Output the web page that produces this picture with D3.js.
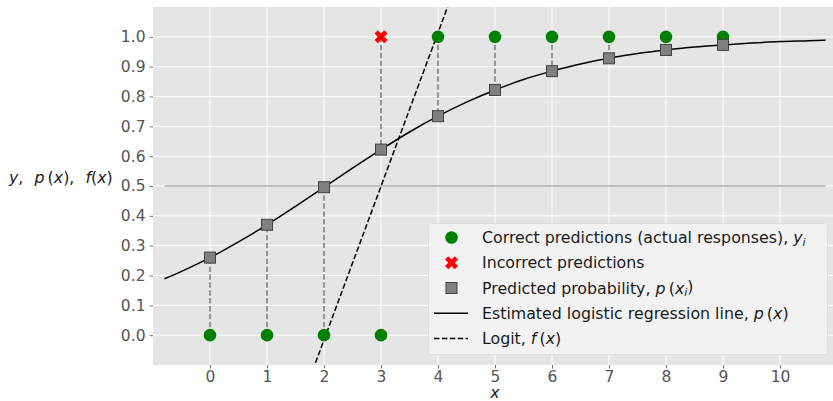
<!DOCTYPE html>
<html>
<head>
<meta charset="utf-8">
<script src="https://cdn.jsdelivr.net/npm/d3@7"></script>
<style>
  body { margin: 0; background: #fff; }
  svg { display: block; font-family: "DejaVu Sans", sans-serif; }
</style>
</head>
<body>
<div id="chart"></div>
<script>
// observations
var xObs = [0, 1, 2, 3, 4, 5, 6, 7, 8, 9];
var yObs = [0, 0, 0, 0, 1, 1, 1, 1, 1, 1];
var yPredClass = [0, 0, 0, 1, 1, 1, 1, 1, 1, 1];
// predicted probabilities p(x_i)
var pObs = [0.260, 0.370, 0.496, 0.622, 0.734, 0.822, 0.885, 0.928, 0.956, 0.973];
// estimated logistic curve
var curveX = [-0.8, -0.5, 0, 0.5, 1, 1.5, 2, 2.5, 3, 3.5, 4, 4.5, 5, 5.5, 6, 6.5, 7, 7.5, 8, 8.5, 9, 9.5, 10, 10.5, 10.8];
var curveY = [0.189, 0.214, 0.260, 0.313, 0.370, 0.432, 0.496, 0.560, 0.622, 0.681, 0.734, 0.781, 0.822, 0.857,
              0.885, 0.909, 0.928, 0.944, 0.956, 0.966, 0.973, 0.979, 0.984, 0.987, 0.989];
// logit line endpoints
var logitX = [-0.8, 10.8];
var logitY = [-1.458, 4.516];
var hlineX = [-0.8, 10.8];
var hlineY = 0.5;
var xTicks = [0, 1, 2, 3, 4, 5, 6, 7, 8, 9, 10];
var yTicks = [0, 0.1, 0.2, 0.3, 0.4, 0.5, 0.6, 0.7, 0.8, 0.9, 1.0];

var width = 833, height = 401;
var plot = { left: 153, right: 837, top: 7, bottom: 365 };

var svg = d3.select("#chart").append("svg")
    .attr("width", width).attr("height", height);

var x = d3.scaleLinear().domain([-1, 11]).range([plot.left, plot.right]);
var y = d3.scaleLinear().domain([-0.1, 1.1]).range([plot.bottom, plot.top]);

svg.append("defs").append("clipPath").attr("id", "clip")
  .append("rect")
    .attr("x", plot.left).attr("y", plot.top)
    .attr("width", plot.right - plot.left).attr("height", plot.bottom - plot.top);

svg.append("rect")
    .attr("x", plot.left).attr("y", plot.top)
    .attr("width", plot.right - plot.left).attr("height", plot.bottom - plot.top)
    .attr("fill", "#e5e5e5");

// grid
var grid = svg.append("g").attr("stroke", "#fff").attr("stroke-width", 1);
grid.selectAll(".gx").data(xTicks).enter().append("line")
    .attr("x1", d => x(d)).attr("x2", d => x(d))
    .attr("y1", plot.top).attr("y2", plot.bottom);
grid.selectAll(".gy").data(yTicks).enter().append("line")
    .attr("x1", plot.left).attr("x2", plot.right)
    .attr("y1", d => y(d)).attr("y2", d => y(d));

// axes
var xAxis = svg.append("g")
    .attr("transform", "translate(0," + plot.bottom + ")")
    .call(d3.axisBottom(x).tickValues(xTicks).tickSize(3.5).tickPadding(2).tickFormat(d3.format("d")));
var yAxis = svg.append("g")
    .attr("transform", "translate(" + plot.left + ",0)")
    .call(d3.axisLeft(y).tickValues(yTicks).tickSize(3.5).tickPadding(4).tickFormat(d3.format(".1f")));
[xAxis, yAxis].forEach(function (a) {
  a.select(".domain").remove();
  a.selectAll(".tick line").attr("stroke", "#555").attr("stroke-width", 0.8);
  a.selectAll(".tick text").attr("fill", "#555").attr("font-size", 15.5)
    .attr("font-family", "DejaVu Sans, sans-serif");
});

var g = svg.append("g").attr("clip-path", "url(#clip)");

// horizontal 0.5 line
g.append("line")
    .attr("x1", x(hlineX[0])).attr("x2", x(hlineX[1]))
    .attr("y1", y(hlineY)).attr("y2", y(hlineY))
    .attr("stroke", "#8c8c8c").attr("stroke-width", 1);

// vertical dashed gray lines: predicted class to predicted probability
g.selectAll(".vl").data(xObs).enter().append("line")
    .attr("x1", d => x(d)).attr("x2", d => x(d))
    .attr("y1", (d, i) => y(yPredClass[i])).attr("y2", (d, i) => y(pObs[i]))
    .attr("stroke", "#777").attr("stroke-width", 1.5)
    .attr("stroke-dasharray", "5.5,2.4");

// logistic curve
var line = d3.line().x(d => x(d[0])).y(d => y(d[1])).curve(d3.curveMonotoneX);
g.append("path")
    .datum(curveX.map((v, i) => [v, curveY[i]]))
    .attr("d", line)
    .attr("fill", "none").attr("stroke", "#000").attr("stroke-width", 1.5);

// logit
g.append("path")
    .datum(logitX.map((v, i) => [v, logitY[i]]))
    .attr("d", d3.line().x(d => x(d[0])).y(d => y(d[1])))
    .attr("fill", "none").attr("stroke", "#000").attr("stroke-width", 1.5)
    .attr("stroke-dasharray", "5.5,2.4");

// markers
var xMark = d3.symbol().type(d3.symbolCross).size(105);
function drawCorrect(sel, cx, cy) {
  sel.append("circle").attr("cx", cx).attr("cy", cy).attr("r", 6.3).attr("fill", "#008000");
}
function drawWrong(sel, cx, cy) {
  sel.append("path").attr("d", xMark())
    .attr("transform", "translate(" + cx + "," + cy + ") rotate(45)")
    .attr("fill", "#ff0000");
}
function drawSquare(sel, cx, cy) {
  sel.append("rect").attr("x", cx - 5.5).attr("y", cy - 5.5)
    .attr("width", 11).attr("height", 11)
    .attr("fill", "#808080").attr("stroke", "#404040").attr("stroke-width", 1);
}

var pts = svg.append("g");
xObs.forEach(function (d, i) { drawCorrect(pts, x(d), y(yObs[i])); });
xObs.forEach(function (d, i) {
  if (yObs[i] !== yPredClass[i]) drawWrong(pts, x(d), y(yPredClass[i]));
});
xObs.forEach(function (d, i) { drawSquare(pts, x(d), y(pObs[i])); });

// legend
var lg = svg.append("g");
lg.append("rect")
    .attr("x", 428.5).attr("y", 223.5).attr("width", 399).attr("height", 131)
    .attr("rx", 3).attr("fill", "#f2f2f2").attr("stroke", "#d9d9d9").attr("stroke-width", 0.8);
var rowY = [237.5, 262.8, 288, 313.3, 338.6];
var tx = 482;
drawCorrect(lg, 451.5, rowY[0]);
drawWrong(lg, 451.5, rowY[1]);
drawSquare(lg, 451.5, rowY[2]);
lg.append("line").attr("x1", 434).attr("x2", 468).attr("y1", rowY[3]).attr("y2", rowY[3])
    .attr("stroke", "#000").attr("stroke-width", 1.5);
lg.append("line").attr("x1", 434).attr("x2", 468).attr("y1", rowY[4]).attr("y2", rowY[4])
    .attr("stroke", "#000").attr("stroke-width", 1.5).attr("stroke-dasharray", "5.5,2.4");

function label(sel, px, py, parts, size) {
  var t = sel.append("text").attr("x", px).attr("y", py).attr("dy", "0.35em")
      .attr("font-size", size).attr("fill", "#1a1a1a").attr("xml:space", "preserve");
  parts.forEach(function (p) {
    var s = t.append("tspan").text(p[0]);
    if (p[1] === "i") s.attr("font-style", "italic");
    if (p[1] === "sub") s.attr("font-style", "italic").attr("font-size", size * 0.7).attr("dy", "0.25em");
    if (p[1] === "up") s.attr("dy", "-0.25em");
  });
  return t;
}
var fs = 15.8;
label(lg, tx, rowY[0], [["Correct predictions (actual responses), "], ["y", "i"], ["i", "sub"]], fs);
label(lg, tx, rowY[1], [["Incorrect predictions"]], fs);
label(lg, tx, rowY[2], [["Predicted probability, "], ["p", "i"], ["\u2009("], ["x", "i"], ["i", "sub"], [")", "up"]], fs);
label(lg, tx, rowY[3], [["Estimated logistic regression line, "], ["p", "i"], ["\u2009("], ["x", "i"], [")"]], fs);
label(lg, tx, rowY[4], [["Logit, "], ["f", "i"], ["\u2009("], ["x", "i"], [")"]], fs);

// axis labels
label(svg, 9, y(0.5) - 9, [["y", "i"], [",\u2002\u2009"], ["p", "i"], ["\u2009("], ["x", "i"], ["),\u2002\u2009"], ["f", "i"], ["("], ["x", "i"], [")"]], fs);
svg.append("text").attr("x", x(5)).attr("y", 398).attr("text-anchor", "middle")
    .attr("font-size", fs).attr("font-style", "italic").attr("fill", "#1a1a1a").text("x");
</script>
</body>
</html>
